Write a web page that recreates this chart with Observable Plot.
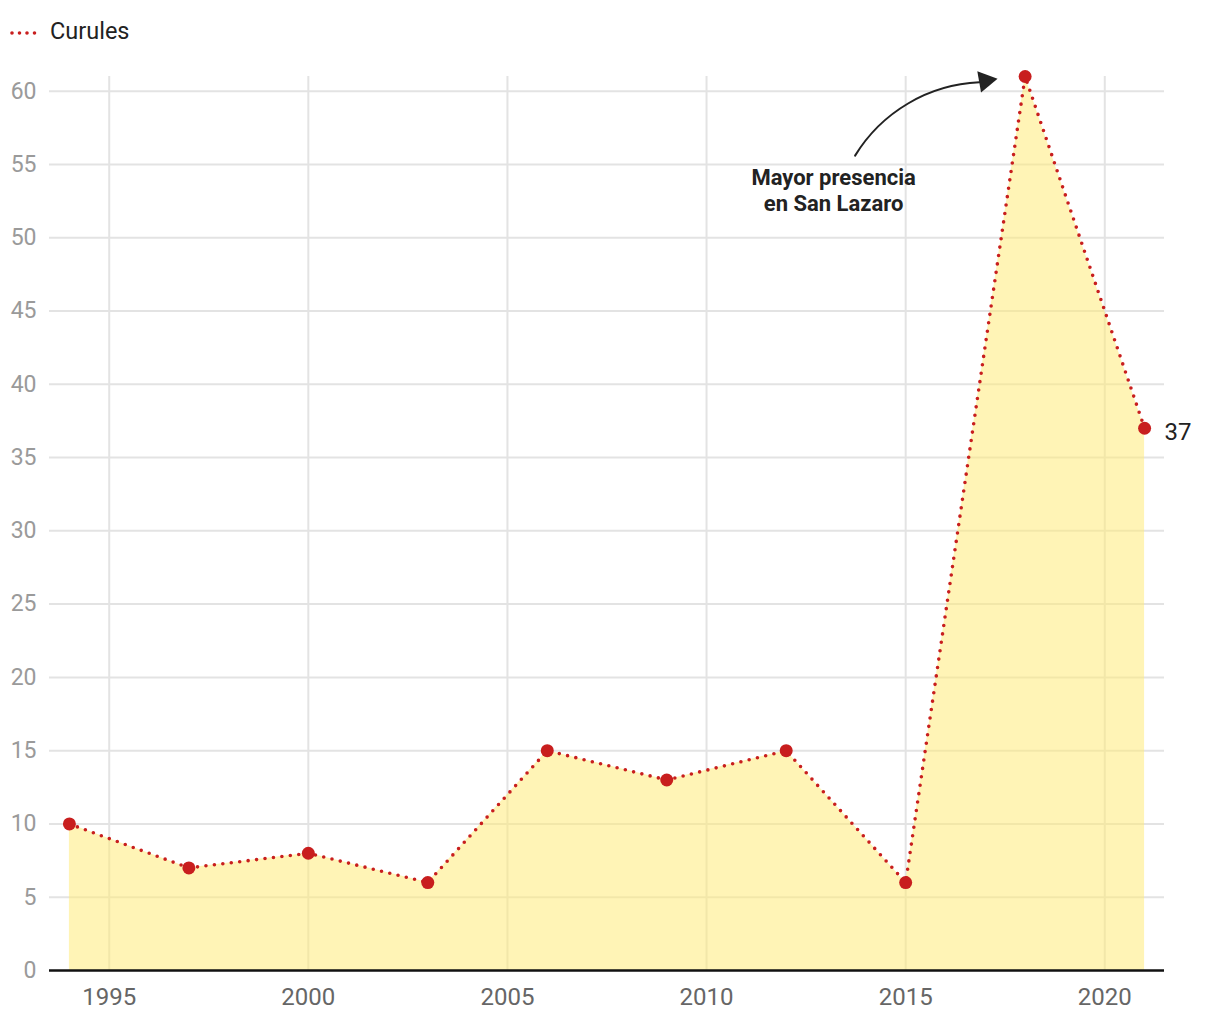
<!DOCTYPE html>
<html>
<head>
<meta charset="utf-8">
<script src="https://cdn.jsdelivr.net/npm/d3@7"></script>
<script src="https://cdn.jsdelivr.net/npm/@observablehq/plot@0.6"></script>
<style>
  html, body { margin: 0; padding: 0; background: #fff; font-family: Roboto, "Noto Sans", sans-serif; }
  #legend { height: 60px; position: relative; }
  #legend svg { position: absolute; left: 10px; top: 30px; }
  #legend span { position: absolute; left: 50px; top: 17px; font-size: 23.5px; color: #222; }
  #chart svg { display: block; }
</style>
</head>
<body>
<div id="legend">
  <svg width="34" height="6"><line x1="2" y1="3" x2="32" y2="3" stroke="#c81e1e" stroke-width="3.6" stroke-linecap="round" stroke-dasharray="0,7.5"/></svg>
  <span>Curules</span>
</div>
<div id="chart"></div>
<script>
const years = [1994, 1997, 2000, 2003, 2006, 2009, 2012, 2015, 2018, 2021];
const curules = [10, 7, 8, 6, 15, 13, 15, 6, 61, 37];
const xTicks = [1995, 2000, 2005, 2010, 2015, 2020];
const yTicks = [0, 5, 10, 15, 20, 25, 30, 35, 40, 45, 50, 55, 60];
const annotationText = "Mayor presencia\nen San Lazaro";

const data = years.map((y, i) => ({year: y, value: curules[i]}));
const last = data[data.length - 1];

const red = "#c81e1e";

const chart = Plot.plot({
  width: 1220,
  height: 960,
  marginTop: 16,
  marginBottom: 50,
  marginLeft: 49,
  marginRight: 56,
  style: {fontFamily: "Roboto, sans-serif", background: "#fff"},
  x: {domain: [1993.5, 2021.5], ticks: xTicks, tickFormat: d => String(d), tickSize: 0, tickPadding: 17, label: null},
  y: {domain: [0, 61], ticks: yTicks, tickSize: 0, tickPadding: 13, label: null},
  marks: [
    Plot.gridX(xTicks, {stroke: "#e3e3e3", strokeOpacity: 1, strokeWidth: 2}),
    Plot.gridY(yTicks.filter(d => d > 0), {stroke: "#e3e3e3", strokeOpacity: 1, strokeWidth: 2}),
    Plot.areaY(data, {x: "year", y: "value", fill: "#ffeb7a", fillOpacity: 0.55}),
    Plot.axisY({ticks: yTicks, tickSize: 0, tickPadding: 13, fontSize: 23, color: "#9a9a9a", stroke: "none"}),
    Plot.axisX({ticks: xTicks, tickFormat: d => String(d), tickSize: 0, tickPadding: 17.5, fontSize: 24, color: "#666"}),
    Plot.ruleY([0], {stroke: "#111", strokeWidth: 2.5}),
    Plot.line(data, {x: "year", y: "value", stroke: red, strokeWidth: 3.6, strokeLinecap: "round", strokeDasharray: "0,8.5"}),
    Plot.dot(data, {x: "year", y: "value", r: 6.5, fill: red}),
    Plot.text([last], {x: "year", y: "value", text: d => String(d.value), dx: 20, dy: 4, textAnchor: "start", fontSize: 24, fill: "#222"}),
    Plot.arrow([{x1: 2013.73, y1: 55.6, x2: 2016.85, y2: 60.6}], {x1: "x1", y1: "y1", x2: "x2", y2: "y2", bend: 28, stroke: "#222", strokeWidth: 2, headLength: 0}),
    Plot.dot([{x: 2017.0, y: 60.7}], {x: "x", y: "y", symbol: "triangle", r: 8, fill: "#222", rotate: 80}),
    Plot.text([{x: 2013.19, y: 54.9}], {x: "x", y: "y", text: () => annotationText, fontSize: 22, fontWeight: "bold", fill: "#222", lineHeight: 1.2, textAnchor: "middle", lineAnchor: "top"})
  ]
});
document.getElementById("chart").appendChild(chart);
</script>
</body>
</html>
